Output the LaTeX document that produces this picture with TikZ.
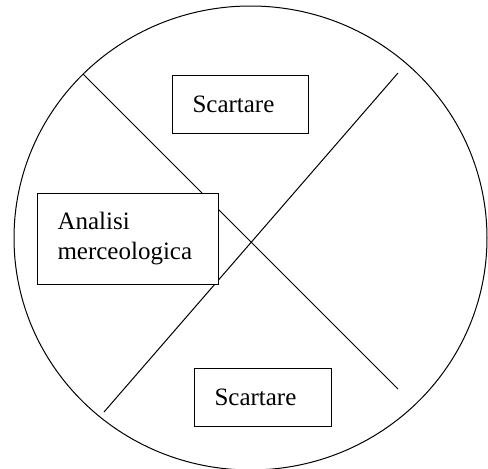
\documentclass[tikz,border=0pt]{standalone}
\usepackage{fontspec}
\setmainfont{Liberation Serif}
\usetikzlibrary{positioning}

\begin{document}
\begin{tikzpicture}[x=1pt, y=-1pt, line width=1pt,
    box/.style={draw, fill=white, anchor=north west, align=left, inner xsep=20pt,
        font=\fontsize{25}{30}\selectfont}]
    \useasboundingbox (0,0) rectangle (488,469);
    \draw (250.5,238) ellipse [x radius=236.5, y radius=232];

    % the two diagonals
    \coordinate (d1) at (83,74);
    \coordinate (d2) at (398,389);
    \coordinate (d3) at (398,73);
    \coordinate (d4) at (104,412);
    \draw (d1) -- (d2);
    \draw (d3) -- (d4);

    \node[box, text width=96pt, minimum height=58pt] (top) at (172,75) {Scartare};
    \node[box, text width=141pt, minimum height=91pt] (analisi) at (37,193) {Analisi\\merceologica};
    \node[box, text width=97pt, minimum height=58pt] (bottom) at (194,368) {Scartare};
\end{tikzpicture}
\end{document}
